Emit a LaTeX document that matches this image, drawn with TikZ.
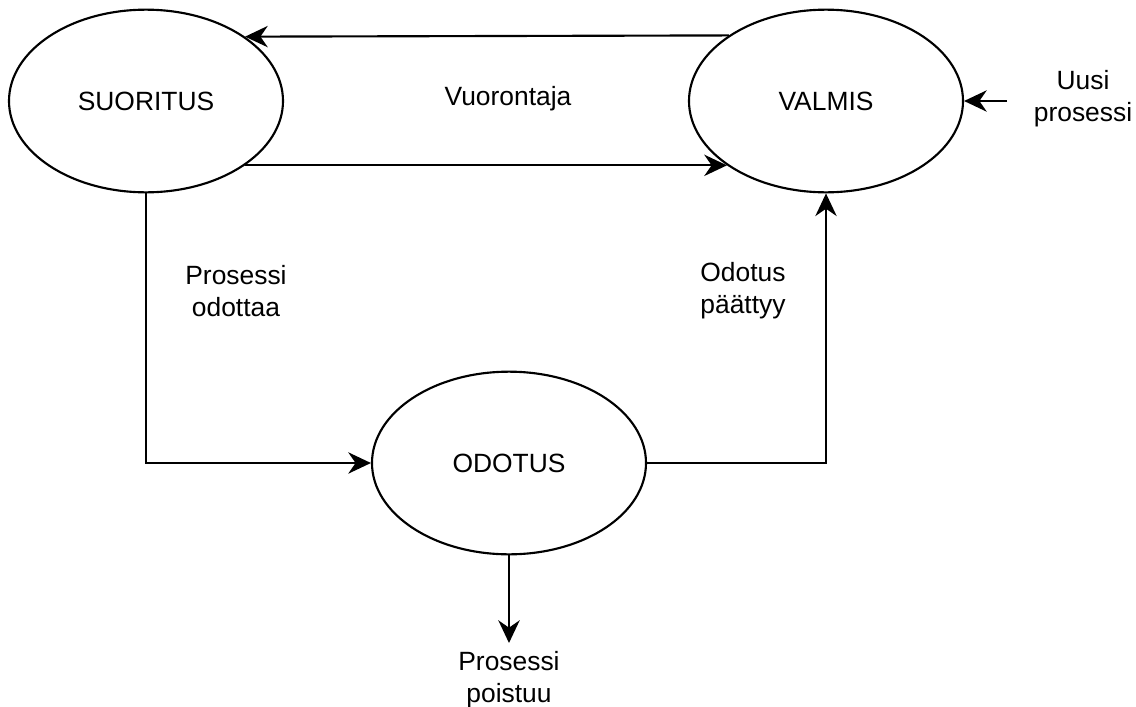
\documentclass[tikz,border=0pt]{standalone}
\usepackage{fontspec}
\setmainfont{Liberation Sans}
\usetikzlibrary{shapes.geometric,arrows.meta}
\begin{document}
\begin{tikzpicture}[x=0.75pt,y=-0.75pt,
  state/.style={draw, line width=1.6pt, ellipse, inner sep=0pt,
    minimum width=205.5pt, minimum height=137pt, font=\fontsize{19.8}{24}\selectfont},
  lbl/.style={align=center, inner sep=0pt, font=\fontsize{19.8}{24}\selectfont},
  arr/.style={line width=1.6pt, -{Stealth[length=17pt, width=16pt, inset=5.5pt]}}]
\useasboundingbox (0,0) rectangle (1136,707);
\node[state] (suoritus) at (146,101) {SUORITUS};
\node[state] (valmis) at (826,101) {VALMIS};
\node[state] (odotus) at (509,463) {ODOTUS};
\node[lbl] (vuoro) at (508,99) {Vuorontaja};
\node[lbl] (odottaa) at (236,291) {Prosessi\\odottaa};
\node[lbl] (paattyy) at (743,291) {Odotus\\päättyy};
\node[lbl] (uusi) at (1083,99) {Uusi\\prosessi};
\node[lbl] (poistuu) at (509,680) {Prosessi\\poistuu};
\coordinate (newin) at (1007,101);
\coordinate (exit) at (509,643);
\draw[arr] (valmis.146.9) -- (suoritus.33.1);
\draw[arr] (suoritus.-33.6) -- (valmis.213.6);
\draw[arr] (suoritus.south) |- (odotus.west);
\draw[arr] (odotus.east) -| (valmis.south);
\draw[arr] (odotus.south) -- (exit);
\draw[arr] (newin) -- (valmis.east);
\end{tikzpicture}
\end{document}
